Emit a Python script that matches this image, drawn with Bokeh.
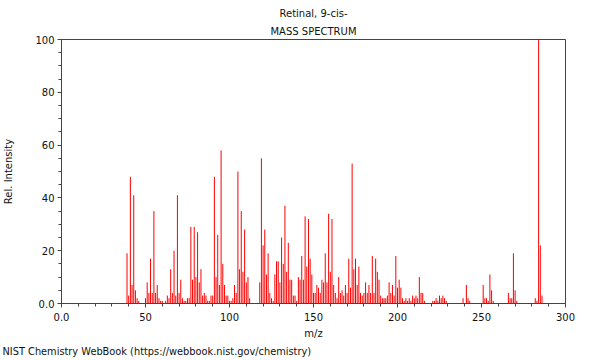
from bokeh.plotting import figure
from bokeh.models import Range1d, SingleIntervalTicker, Title
from bokeh.embed import file_html
from bokeh.resources import INLINE

mz = [39, 40, 41, 42, 43, 44, 45, 46,
      50, 51, 52, 53, 54, 55, 56, 57, 58, 59, 60, 62, 63, 64, 65, 66, 67, 68, 69, 70,
      71, 72, 73, 74, 75, 76, 77, 78, 79, 80, 81, 82, 83, 84, 85, 86, 87, 88, 89, 90,
      91, 92, 93, 94, 95, 96, 97, 98, 99, 100, 101, 102, 103, 104, 105, 106, 107, 108,
      109, 110, 111, 112,
      118, 119, 120, 121, 122, 123, 124, 125, 126, 127, 128, 129, 130, 131, 132, 133,
      134, 135, 136, 137, 138, 139, 140, 141, 142, 143, 144, 145, 146, 147, 148, 149,
      150, 151, 152, 153, 154, 155, 156, 157, 158, 159, 160, 161, 162, 163, 164, 165,
      166, 167, 168, 169, 170, 171, 172, 173, 174, 175, 176, 177, 178, 179, 180, 181,
      182, 183, 184, 185, 186, 187, 188, 189, 190, 191, 192, 193, 194, 195, 196, 197,
      198, 199, 200, 201, 202, 203, 204, 205, 206, 207, 208, 209, 210, 211, 212, 213,
      214, 215, 216, 221, 222, 223, 224, 225, 226, 227, 228, 229,
      239, 241, 242, 243, 251, 252, 253, 254, 255, 256, 257,
      266, 267, 268, 269, 270, 271, 282, 283, 284, 285, 286]
rel = [19, 3, 48, 7, 41, 5, 2, 1,
       2, 8, 4, 17, 4, 35, 4, 7, 2, 1, 1, 1, 3, 2, 13, 4, 20, 3, 41, 4,
       9, 2, 1, 1, 2, 2, 29, 9, 29, 10, 27, 8, 13, 3, 4, 3, 1, 1, 3, 3,
       48, 10, 26, 7, 58, 15, 7, 3, 3, 1, 1, 2, 7, 4, 50, 13, 35, 12,
       28, 8, 10, 2,
       8, 55, 22, 28, 11, 19, 4, 2, 1, 11, 16, 16, 8, 25, 15, 37,
       12, 23, 9, 9, 3, 3, 1, 10, 9, 18, 9, 33, 14, 32, 17, 11,
       4, 4, 7, 6, 4, 9, 8, 19, 8, 34, 12, 32, 7, 4, 2, 10,
       4, 5, 3, 7, 4, 17, 6, 53, 13, 17, 7, 14, 4, 3, 4, 8,
       4, 7, 4, 18, 4, 17, 12, 9, 3, 2, 2, 2, 3, 8, 4, 7,
       3, 18, 6, 9, 6, 2, 1, 2, 1, 2, 1, 3, 2, 3, 2, 10,
       4, 4, 1, 1, 1, 2, 1, 3, 2, 3, 2, 1,
       2, 7, 2, 1, 7, 2, 2, 1, 11, 5, 1,
       4, 2, 2, 19, 5, 1, 2, 1, 100, 22, 3]

title1 = "Retinal, 9-cis-"
title2 = "MASS SPECTRUM"
footer = "NIST Chemistry WebBook (https://webbook.nist.gov/chemistry)"

FONT = "DejaVu Sans"
FS = "10px"
TXT = "#111111"
AX = "#444444"

p = figure(frame_width=504, frame_height=264, output_backend="svg", toolbar_location=None,
           x_range=Range1d(0, 300), y_range=Range1d(0, 100),
           min_border_left=61, min_border_right=25, min_border_top=39, min_border_bottom=53)
p.grid.visible = False
p.outline_line_color = AX
p.outline_line_width = 1

p.segment(x0=mz, y0=[0] * len(mz), x1=mz, y1=rel, line_color="#ff0000", line_width=1)

p.xaxis.ticker = SingleIntervalTicker(interval=50, num_minor_ticks=5)
p.yaxis.ticker = SingleIntervalTicker(interval=20, num_minor_ticks=4)
p.xaxis.major_label_overrides = {0: "0.0"}
p.yaxis.major_label_overrides = {0: "0.0"}
p.xaxis.axis_label = "m/z"
p.yaxis.axis_label = "Rel. Intensity"
for ax in (p.xaxis, p.yaxis):
    ax.axis_line_color = AX
    ax.major_tick_line_color = AX
    ax.minor_tick_line_color = AX
    ax.major_tick_in = 0
    ax.minor_tick_in = 0
    ax.major_tick_out = 4
    ax.minor_tick_out = 3
    ax.major_label_text_font = FONT
    ax.major_label_text_font_size = FS
    ax.major_label_text_color = TXT
    ax.axis_label_text_font = FONT
    ax.axis_label_text_font_size = FS
    ax.axis_label_text_font_style = "normal"
    ax.axis_label_text_color = TXT
p.xaxis.major_label_standoff = 5
p.xaxis.axis_label_standoff = 4
p.yaxis.major_label_standoff = 3
p.yaxis.axis_label_standoff = 18

p.add_layout(Title(text=title2, align="center", text_font=FONT, text_font_size=FS,
                   text_font_style="normal", text_color=TXT, standoff=6), "above")
p.add_layout(Title(text=title1, align="center", text_font=FONT, text_font_size=FS,
                   text_font_style="normal", text_color=TXT, standoff=4), "above")
p.add_layout(Title(text=footer, align="left", offset=-59, text_font=FONT, text_font_size="9.8px",
                   text_font_style="normal", text_color=TXT, standoff=5), "below")

open("out.html", "w").write(file_html(p, INLINE))
